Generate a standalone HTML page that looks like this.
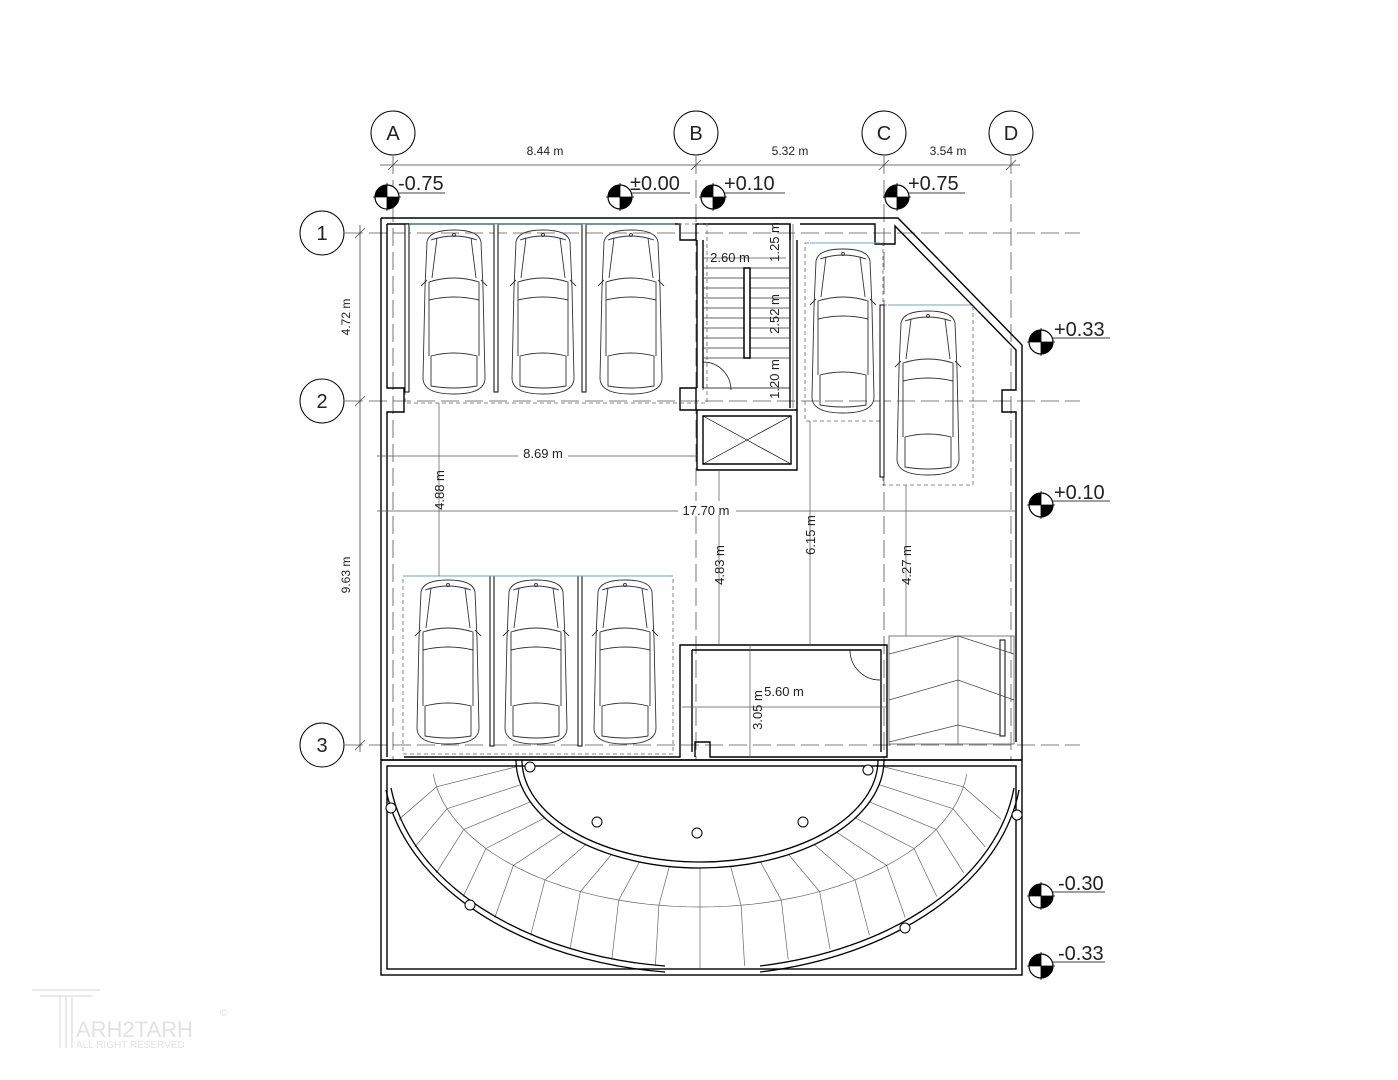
<!DOCTYPE html>
<html><head><meta charset="utf-8"><style>
html,body{margin:0;padding:0;background:#fff}
svg{display:block}
text{font-family:"Liberation Sans",sans-serif;fill:#222}
</style></head><body>
<svg id="s" width="1398" height="1080" viewBox="0 0 1398 1080" xmlns="http://www.w3.org/2000/svg">
<defs>
<g id="car" fill="none" stroke="#333" stroke-width="0.9">
<path d="M8 14 Q10 2 35 2 Q60 2 62 14 L64 60 L66 150 Q66 166 35 166 Q4 166 4 150 L6 60 Z"/>
<path d="M12 12 Q35 4 58 12"/>
<path d="M18 10 L13 50 M52 10 L57 50"/>
<path d="M10 54 Q35 46 60 54 L60 72 Q35 66 10 72 Z"/>
<path d="M10 72 L10 128 M60 72 L60 128"/>
<path d="M12 128 Q35 122 58 128 L58 158 Q35 162 12 158 Z"/>
<path d="M2 58 L8 52 M68 58 L62 52"/>
<circle cx="35" cy="7" r="1.5"/>
</g>
<g id="elev">
<circle r="12" fill="#fff" stroke="#000" stroke-width="1.2"/>
<path d="M0 -12 A12 12 0 0 0 -12 0 L0 0 Z" fill="#000"/>
<path d="M0 12 A12 12 0 0 0 12 0 L0 0 Z" fill="#000"/>
<line x1="-14" y1="0" x2="14" y2="0" stroke="#000" stroke-width="0.8"/>
<line x1="0" y1="-14" x2="0" y2="14" stroke="#000" stroke-width="0.8"/>
</g>
</defs>

<g stroke="#555" stroke-width="0.8" stroke-dasharray="18 6" fill="none">
<line x1="393" y1="156" x2="393" y2="760"/>
<line x1="696" y1="156" x2="696" y2="760"/>
<line x1="884" y1="156" x2="884" y2="760"/>
<line x1="1011" y1="156" x2="1011" y2="760"/>
<line x1="345" y1="233" x2="1080" y2="233"/>
<line x1="345" y1="401" x2="1080" y2="401"/>
<line x1="345" y1="745" x2="1080" y2="745"/>
</g>
<g stroke="#000" stroke-width="1" fill="#fff">
<circle cx="393" cy="133" r="22"/><circle cx="696" cy="133" r="22"/>
<circle cx="884" cy="133" r="22"/><circle cx="1011" cy="133" r="22"/>
<circle cx="322" cy="233" r="22"/><circle cx="322" cy="401" r="22"/><circle cx="322" cy="745" r="22"/>
</g>
<g font-size="20" text-anchor="middle">
<text x="393" y="140">A</text><text x="696" y="140">B</text><text x="884" y="140">C</text><text x="1011" y="140">D</text>
<text x="322" y="240">1</text><text x="322" y="408">2</text><text x="322" y="752">3</text>
</g>

<g stroke="#444" stroke-width="0.8">
<line x1="380" y1="165" x2="1020" y2="165"/>
<line x1="388" y1="170" x2="398" y2="160"/><line x1="691" y1="170" x2="701" y2="160"/>
<line x1="879" y1="170" x2="889" y2="160"/><line x1="1006" y1="170" x2="1016" y2="160"/>
<line x1="360" y1="225" x2="360" y2="752"/>
<line x1="355" y1="238" x2="365" y2="228"/><line x1="355" y1="406" x2="365" y2="396"/><line x1="355" y1="750" x2="365" y2="740"/>
</g>
<g font-size="12" text-anchor="middle">
<text x="545" y="155">8.44 m</text><text x="790" y="155">5.32 m</text><text x="948" y="155">3.54 m</text>
<text transform="translate(350,317) rotate(-90)">4.72 m</text>
<text transform="translate(350,575) rotate(-90)">9.63 m</text>
</g>

<use href="#elev" x="387" y="197"/><use href="#elev" x="620" y="197"/>
<use href="#elev" x="713" y="197"/><use href="#elev" x="897" y="197"/>
<use href="#elev" x="1041" y="342"/><use href="#elev" x="1041" y="505"/>
<use href="#elev" x="1041" y="896"/><use href="#elev" x="1041" y="966"/>
<g stroke="#000" stroke-width="0.8">
<line x1="399" y1="193" x2="445" y2="193"/><line x1="632" y1="193" x2="690" y2="193"/>
<line x1="725" y1="193" x2="785" y2="193"/><line x1="909" y1="193" x2="965" y2="193"/>
<line x1="1053" y1="338" x2="1110" y2="338"/><line x1="1053" y1="501" x2="1110" y2="501"/>
<line x1="1053" y1="892" x2="1105" y2="892"/><line x1="1053" y1="962" x2="1105" y2="962"/>
</g>
<g font-size="20">
<text x="398" y="190">-0.75</text><text x="630" y="190">±0.00</text><text x="724" y="190">+0.10</text>
<text x="908" y="190">+0.75</text><text x="1054" y="336">+0.33</text><text x="1054" y="499">+0.10</text>
<text x="1058" y="890">-0.30</text><text x="1058" y="960">-0.33</text>
</g>

<g fill="none" stroke="#000" stroke-width="1.4">
<path d="M381 218 L898 218 L1022 345 L1022 760"/>
<path d="M387 224 L680 224 L680 240 L696 240 L696 224 L790 224 L790 240 M800 224 L875 224 L875 244 L895 244 L895 226 L1016 350 L1016 390 L1002 390 L1002 412 L1016 412 L1016 742"/>
<path d="M381 218 L381 760"/>
<path d="M387 224 L387 388 L404 388 L404 412 L387 412 L387 757"/>
<path d="M381 760 L1022 760"/>
<path d="M404 757 L680 757 L680 645 L887 645 L887 757 L710 757 L710 742 L695 742 L695 757"/>
<path d="M692 650 L881 650 L881 752 M692 650 L692 752"/>
<path d="M680 388 L696 388 L696 410 L680 410 Z"/>
<path d="M697 240 L697 388 M703 240 L703 388"/>
<path d="M697 410 L797 410 L797 470 L697 470 Z M703 416 L791 416 L791 464 L703 464 Z"/>
<path d="M790 224 L790 408 M797 240 L797 410"/>
<rect x="381" y="760" width="641" height="215"/>
<rect x="387" y="766" width="629" height="203"/>
</g>
<g stroke="#000" stroke-width="0.7" fill="none">
<line x1="703" y1="416" x2="791" y2="464"/><line x1="791" y1="416" x2="703" y2="464"/>
<line x1="703" y1="388" x2="790" y2="388"/>
<path d="M703 362 A28 28 0 0 1 731 390"/><line x1="703" y1="362" x2="703" y2="390"/>
<path d="M850 650 A30 30 0 0 0 880 680"/>
</g>
<g stroke="#333" stroke-width="0.8">
<line x1="703" y1="268" x2="790" y2="268"/><line x1="703" y1="278" x2="790" y2="278"/>
<line x1="703" y1="288" x2="790" y2="288"/><line x1="703" y1="298" x2="790" y2="298"/>
<line x1="703" y1="308" x2="790" y2="308"/><line x1="703" y1="318" x2="790" y2="318"/>
<line x1="703" y1="328" x2="790" y2="328"/><line x1="703" y1="338" x2="790" y2="338"/>
<line x1="703" y1="348" x2="790" y2="348"/><line x1="703" y1="358" x2="790" y2="358"/>
</g>
<rect x="744" y="268" width="6" height="90" fill="#fff" stroke="#000" stroke-width="1.5"/>

<g stroke="#666" stroke-width="0.8" fill="none" stroke-dasharray="4 3">
<rect x="405" y="224" width="302" height="179"/>
<rect x="403" y="576" width="270" height="178"/>
<rect x="805" y="243" width="78" height="178"/>
<rect x="883" y="305" width="90" height="180"/>
</g>
<g stroke="#000" stroke-width="1" fill="#fff">
<rect x="405" y="224" width="4" height="168"/><rect x="494" y="224" width="4" height="168"/><rect x="582" y="224" width="4" height="168"/>
<rect x="490" y="576" width="4" height="170"/><rect x="578" y="576" width="4" height="170"/>
<rect x="880" y="305" width="4" height="172"/>
<rect x="1000" y="640" width="5" height="96"/>
</g>
<g stroke="#6aa6c8" stroke-width="1"><line x1="409" y1="224" x2="675" y2="224"/><line x1="404" y1="576" x2="670" y2="576"/><line x1="810" y1="243" x2="880" y2="243"/><line x1="888" y1="305" x2="970" y2="305"/></g>
<use href="#car" x="419" y="228"/><use href="#car" x="508" y="228"/><use href="#car" x="596" y="228"/>
<use href="#car" x="413" y="578"/><use href="#car" x="501" y="578"/><use href="#car" x="590" y="578"/>
<use href="#car" x="808" y="247"/><use href="#car" x="893" y="309"/>

<g stroke="#444" stroke-width="0.7" fill="none">
<rect x="889" y="636" width="125" height="108"/>
<line x1="958" y1="636" x2="958" y2="744"/>
<path d="M889 654 L958 636 L1014 654 M889 700 L958 680 L1014 700 M889 742 L958 725 L1000 735"/>
</g>

<g stroke="#555" stroke-width="0.7">
<line x1="377" y1="456" x2="697" y2="456"/><line x1="377" y1="511" x2="1016" y2="511"/>
<line x1="439" y1="403" x2="439" y2="576"/><line x1="719" y1="470" x2="719" y2="645"/>
<line x1="810" y1="421" x2="810" y2="645"/><line x1="906" y1="485" x2="906" y2="636"/>
<line x1="682" y1="707" x2="887" y2="707"/><line x1="750" y1="645" x2="750" y2="757"/>
<line x1="793" y1="224" x2="793" y2="408"/><line x1="703" y1="258" x2="786" y2="258"/>
</g>
<g font-size="13" text-anchor="middle">
<rect x="518" y="446" width="50" height="14" fill="#fff"/><text x="543" y="458">8.69 m</text>
<rect x="678" y="501" width="58" height="14" fill="#fff"/><text x="706" y="515">17.70 m</text>
<text x="784" y="696">5.60 m</text>
<text x="730" y="262">2.60 m</text>
<text transform="translate(444,490) rotate(-90)">4.88 m</text>
<text transform="translate(724,565) rotate(-90)">4.83 m</text>
<text transform="translate(815,535) rotate(-90)">6.15 m</text>
<text transform="translate(911,565) rotate(-90)">4.27 m</text>
<text transform="translate(762,710) rotate(-90)">3.05 m</text>
<text transform="translate(779,242) rotate(-90)">1.25 m</text>
<text transform="translate(779,314) rotate(-90)">2.52 m</text>
<text transform="translate(779,379) rotate(-90)">1.20 m</text>
</g>

<g id="ramplines" fill="none" stroke="#666" stroke-width="0.7"></g>
<g fill="none" stroke="#000" stroke-width="1.3">
<path d="M516 760 A184 108 0 0 0 884 760"/>
<path d="M522 760 A178 102 0 0 0 878 760"/>
<path d="M386 790 A318 212 0 0 0 665 972"/>
<path d="M391 788 A312 206 0 0 0 665 966"/>
<path d="M760 972 A318 212 0 0 0 1019 790"/>
<path d="M760 966 A312 206 0 0 0 1014 788"/>
</g>
<g fill="#fff" stroke="#000" stroke-width="1">
<circle cx="530" cy="767" r="5"/><circle cx="597" cy="822" r="5"/><circle cx="697" cy="833" r="5"/>
<circle cx="803" cy="822" r="5"/><circle cx="868" cy="770" r="5"/><circle cx="391" cy="808" r="5"/>
<circle cx="470" cy="905" r="5"/><circle cx="905" cy="928" r="5"/><circle cx="1017" cy="815" r="5"/>
</g>

<g fill="none" stroke="#e4e4e4" stroke-width="1.5">
<path d="M32 990 L100 990 M40 996 L92 996 M60 996 L60 1048 M66 996 L66 1048 M72 996 L72 1048"/>
</g>
<text x="76" y="1037" font-size="22" style="fill:#e2e2e2">ARH2TARH</text>
<text x="76" y="1048" font-size="10" style="fill:#e2e2e2">ALL RIGHT RESERVED</text>
<text x="220" y="1016" font-size="10" style="fill:#e2e2e2">©</text>
</svg>
<script>
(function(){
var g=document.getElementById('ramplines'),ns='http://www.w3.org/2000/svg',cx=700,cy=760;
function pt(rx,ry,a){return [cx+rx*Math.cos(a),cy+ry*Math.sin(a)];}
var d='';
// middle arc
var m=[];for(var k=0;k<=60;k++){var a=Math.PI*(0.03+0.94*k/60);var p=pt(268,147,a);m.push(p[0].toFixed(1)+' '+p[1].toFixed(1));}
d+='M'+m.join(' L');
for(var i=0;i<19;i++){
 var t=0.02+i*(0.96/18);
 var ai=Math.PI*t, am=Math.PI*(t+(0.5-t)*0.08), ao=Math.PI*(t+(0.5-t)*0.15);
 var p1=pt(184,108,ai),p2=pt(268,147,am),p3=pt(314,208,ao);
 d+=' M'+p1[0].toFixed(1)+' '+p1[1].toFixed(1)+' L'+p2[0].toFixed(1)+' '+p2[1].toFixed(1)+' L'+p3[0].toFixed(1)+' '+p3[1].toFixed(1);
}
var p=document.createElementNS(ns,'path');p.setAttribute('d',d);g.appendChild(p);
})();
</script>
</body></html>
